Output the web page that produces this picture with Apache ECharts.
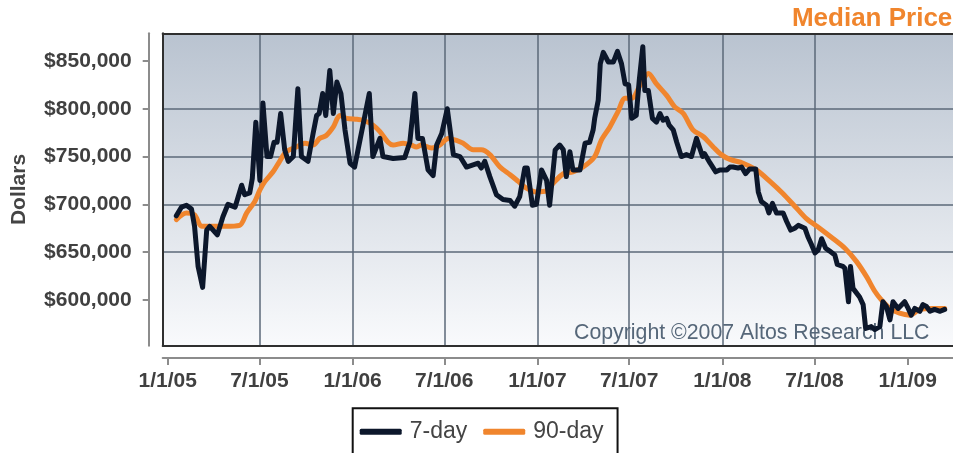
<!DOCTYPE html>
<html><head><meta charset="utf-8">
<script src="https://cdn.jsdelivr.net/npm/echarts@6/dist/echarts.min.js"></script>
<style>html,body{margin:0;padding:0;background:#fff}#c{width:953px;height:453px}</style>
</head><body><div id="c"></div>
<script>
const dates7 = ['2005-01-18','2005-01-28','2005-02-07','2005-02-17','2005-02-23','2005-03-02','2005-03-11','2005-03-19','2005-03-25','2005-04-09','2005-04-20','2005-04-30','2005-05-14','2005-05-27','2005-06-02','2005-06-12','2005-06-17','2005-06-24','2005-07-02','2005-07-08','2005-07-16','2005-07-23','2005-07-30','2005-08-05','2005-08-12','2005-08-20','2005-08-27','2005-09-06','2005-09-15','2005-09-22','2005-10-05','2005-10-15','2005-10-22','2005-10-27','2005-11-03','2005-11-09','2005-11-17','2005-11-24','2005-12-01','2005-12-09','2005-12-17','2005-12-27','2006-01-05','2006-02-03','2006-02-10','2006-02-24','2006-03-02','2006-03-22','2006-04-14','2006-04-24','2006-05-04','2006-05-10','2006-05-19','2006-05-30','2006-06-09','2006-06-16','2006-06-26','2006-07-07','2006-07-19','2006-08-01','2006-08-14','2006-09-06','2006-09-12','2006-09-19','2006-09-29','2006-10-12','2006-10-25','2006-11-08','2006-11-17','2006-11-27','2006-12-07','2006-12-12','2006-12-22','2006-12-30','2007-01-09','2007-01-19','2007-01-25','2007-02-05','2007-02-14','2007-02-21','2007-02-27','2007-03-06','2007-03-12','2007-03-26','2007-04-05','2007-04-14','2007-04-21','2007-04-24','2007-05-01','2007-05-05','2007-05-11','2007-05-21','2007-05-31','2007-06-08','2007-06-16','2007-06-23','2007-06-30','2007-07-06','2007-07-15','2007-07-21','2007-07-28','2007-08-01','2007-08-08','2007-08-16','2007-08-24','2007-08-31','2007-09-06','2007-09-13','2007-09-18','2007-09-26','2007-10-03','2007-10-12','2007-10-22','2007-11-01','2007-11-11','2007-11-14','2007-11-23','2007-11-27','2007-12-08','2007-12-19','2007-12-27','2008-01-10','2008-01-16','2008-01-22','2008-02-01','2008-02-08','2008-02-16','2008-02-24','2008-03-07','2008-03-12','2008-03-18','2008-03-28','2008-04-02','2008-04-09','2008-04-17','2008-04-30','2008-05-07','2008-05-15','2008-05-23','2008-05-30','2008-06-12','2008-06-18','2008-06-25','2008-07-02','2008-07-08','2008-07-15','2008-07-23','2008-07-31','2008-08-10','2008-08-15','2008-08-26','2008-08-30','2008-09-06','2008-09-10','2008-09-15','2008-09-28','2008-10-05','2008-10-10','2008-10-21','2008-10-28','2008-11-07','2008-11-13','2008-11-20','2008-11-27','2008-12-03','2008-12-13','2008-12-26','2009-01-02','2009-01-08','2009-01-15','2009-01-25','2009-01-31','2009-02-07','2009-02-14','2009-02-23','2009-03-06','2009-03-15'];
const values7 = [688000,697000,699000,695000,677000,635000,613000,673000,677000,668000,687000,700000,697000,720000,710000,712000,727000,786000,725000,806000,750000,750000,765000,765000,795000,757000,745000,750000,821000,750000,745000,774000,793000,795000,816000,793000,840000,795000,828000,816000,778000,743000,739000,816000,750000,769000,750000,748000,749000,765000,816000,769000,769000,736000,730000,762000,774000,800000,752000,750000,739000,743000,738000,745000,729000,710000,705000,704000,698000,708000,738000,738000,699000,700000,736000,725000,699000,757000,762000,757000,729000,755000,736000,736000,764000,765000,778000,790000,809000,847000,859000,849000,849000,860000,847000,826000,825000,790000,793000,830000,865000,819000,819000,790000,786000,795000,788000,790000,783000,778000,765000,750000,752000,750000,769000,767000,750000,753000,743000,734000,736000,736000,739000,739000,738000,739000,732000,737000,737000,713000,703000,699000,691000,701000,691000,691000,682000,673000,675000,678000,675000,666000,658000,649000,652000,664000,654000,651000,647000,637000,635000,633000,598000,635000,612000,603000,595000,570000,572000,569000,572000,598000,593000,579000,598000,591000,598000,591000,584000,591000,588000,595000,593000,588000,590000,588000,590000];
const dates90 = ['2005-01-18','2005-02-07','2005-02-23','2005-03-09','2005-03-25','2005-04-24','2005-05-23','2005-06-06','2005-06-22','2005-07-02','2005-07-12','2005-07-28','2005-08-10','2005-08-23','2005-09-12','2005-09-29','2005-10-15','2005-10-28','2005-11-10','2005-11-24','2005-12-07','2005-12-20','2006-01-10','2006-01-22','2006-02-10','2006-02-24','2006-03-12','2006-03-22','2006-04-11','2006-04-27','2006-05-07','2006-05-17','2006-06-06','2006-06-22','2006-07-09','2006-07-25','2006-08-07','2006-08-27','2006-09-12','2006-09-29','2006-10-19','2006-11-08','2006-11-24','2006-12-10','2006-12-30','2007-01-19','2007-02-01','2007-02-21','2007-03-12','2007-04-01','2007-04-24','2007-05-07','2007-05-24','2007-06-09','2007-06-23','2007-07-06','2007-07-23','2007-08-08','2007-08-24','2007-09-13','2007-09-29','2007-10-16','2007-11-04','2007-11-24','2007-12-14','2007-12-30','2008-01-16','2008-02-11','2008-03-08','2008-04-04','2008-04-30','2008-05-23','2008-06-15','2008-07-11','2008-08-07','2008-08-30','2008-09-22','2008-10-12','2008-10-28','2008-11-10','2008-11-27','2008-12-16','2009-01-05','2009-01-25','2009-02-20','2009-03-15'];
const values90 = [684000,691000,689000,677000,677000,677000,678000,691000,703000,715000,724000,734000,745000,755000,760000,764000,762000,769000,772000,781000,793000,790000,789000,788000,783000,776000,765000,762000,764000,762000,760000,762000,759000,762000,769000,767000,764000,757000,757000,752000,739000,731000,724000,717000,713000,714000,722000,732000,734000,739000,750000,767000,781000,797000,811000,811000,825000,837000,826000,814000,802000,795000,778000,771000,760000,752000,747000,743000,736000,724000,711000,698000,685000,675000,664000,654000,640000,624000,609000,600000,591000,586000,584000,590000,591000,591000];
const xTickLabels = ['1/1/05','7/1/05','1/1/06','7/1/06','1/1/07','7/1/07','1/1/08','7/1/08','1/1/09'];
const yTickValues = [600000,650000,700000,750000,800000,850000];

const FONT = '"Liberation Sans", Arial, sans-serif';
function isoUTC(s){const p=s.split('-');return Date.UTC(+p[0],+p[1]-1,+p[2]);}
function mdyUTC(s){const p=s.split('/');return Date.UTC(2000+(+p[2]),+p[0]-1,+p[1]);}
const xTicks = xTickLabels.map(mdyUTC);
function fmtX(v){let best=0;for(let i=1;i<xTicks.length;i++){if(Math.abs(xTicks[i]-v)<Math.abs(xTicks[best]-v))best=i;}return xTickLabels[best];}
function fmtY(v){return '$'+Math.round(v).toLocaleString('en-US');}

const X_MIN = Date.UTC(2004,11,22,3), X_MAX = Date.UTC(2009,2,31,10);
const Y_MIN = 552000, Y_MAX = 879000;
const chart = echarts.init(document.getElementById('c'), null, {renderer:'canvas'});
const gridLine = {color:'#5b6878', width:1.5};
const axisGray = {color:'#8c8c8c', width:2};
const borderDark = {color:'#2f2f2f', width:2};
const borderAxis = (pos)=>({type:'value', position:pos, min:X_MIN, max:X_MAX, offset:0,
  axisLine:{show:true, lineStyle:borderDark}, axisTick:{show:false}, axisLabel:{show:false}, splitLine:{show:false}});
chart.setOption({
  animation:false,
  backgroundColor:'#ffffff',
  title:{text:'Median Price', right:0.7, top:6, padding:0,
    textStyle:{color:'#f0852d', fontSize:26, fontWeight:'bold', fontFamily:FONT}},
  grid:{left:162.7, top:33.3, right:0, bottom:107.3, show:true,
    backgroundColor:{type:'linear',x:0,y:0,x2:0,y2:1,colorStops:[{offset:0,color:'#b9c3d0'},{offset:1,color:'#f9fafc'}]},
    borderWidth:0},
  legend:{data:['7-day','90-day'], left:352.7, top:408.3, orient:'horizontal',
    borderColor:'#111', borderWidth:2, padding:[12,14,40,7],
    itemWidth:42, itemHeight:6, itemGap:16, icon:'roundRect',
    textStyle:{fontSize:23, color:'#444', fontFamily:FONT, padding:[0,0,0,3]}},
  xAxis:[
    {type:'value', position:'bottom', min:X_MIN, max:X_MAX, offset:12.3,
      axisLine:{show:true, lineStyle:axisGray},
      axisTick:{show:true, customValues:xTicks, length:7, lineStyle:axisGray},
      axisLabel:{customValues:xTicks, formatter:fmtX, color:'#404040', fontSize:21, fontWeight:'bold', fontFamily:FONT, margin:13},
      splitLine:{show:true, showMinLine:false, showMaxLine:false, lineStyle:gridLine}},
    borderAxis('bottom'),
    borderAxis('top')
  ],
  yAxis:[
    {type:'value', position:'left', min:Y_MIN, max:Y_MAX, offset:14,
      axisLine:{show:true, lineStyle:axisGray},
      axisTick:{show:true, customValues:yTickValues, length:6, lineStyle:axisGray},
      axisLabel:{customValues:yTickValues, formatter:fmtY, color:'#404040', fontSize:21, fontWeight:'bold', fontFamily:FONT, margin:17},
      splitLine:{show:true, showMinLine:false, showMaxLine:false, lineStyle:gridLine}},
    {type:'value', position:'left', min:Y_MIN, max:Y_MAX, offset:0,
      axisLine:{show:true, lineStyle:borderDark}, axisTick:{show:false}, axisLabel:{show:false}, splitLine:{show:false}}
  ],
  graphic:[
    {type:'text', x:574, y:333, z:1, silent:true,
      style:{text:'Copyright \u00a92007 Altos Research LLC', fontSize:21.3, fontFamily:FONT, fill:'#566779', align:'left', verticalAlign:'middle'}},
    {type:'text', x:19.5, y:189.5, rotation:Math.PI/2, z:1, silent:true,
      style:{text:'Dollars', fontSize:21, fontWeight:'bold', fontFamily:FONT, fill:'#444', align:'center', verticalAlign:'middle'}}
  ],
  series:[
    {name:'90-day', type:'line', xAxisIndex:0, yAxisIndex:0, z:2, symbol:'none', showSymbol:false, smooth:0.3,
      data:dates90.map((d,i)=>[isoUTC(d), values90[i]]),
      lineStyle:{color:'#f0852d', width:5, cap:'round', join:'round'}, itemStyle:{color:'#f0852d'}},
    {name:'7-day', type:'line', xAxisIndex:0, yAxisIndex:0, z:3, symbol:'none', showSymbol:false,
      data:dates7.map((d,i)=>[isoUTC(d), values7[i]]),
      lineStyle:{color:'#0c172b', width:5, cap:'round', join:'round'}, itemStyle:{color:'#0c172b'}}
  ]
});
</script></body></html>
